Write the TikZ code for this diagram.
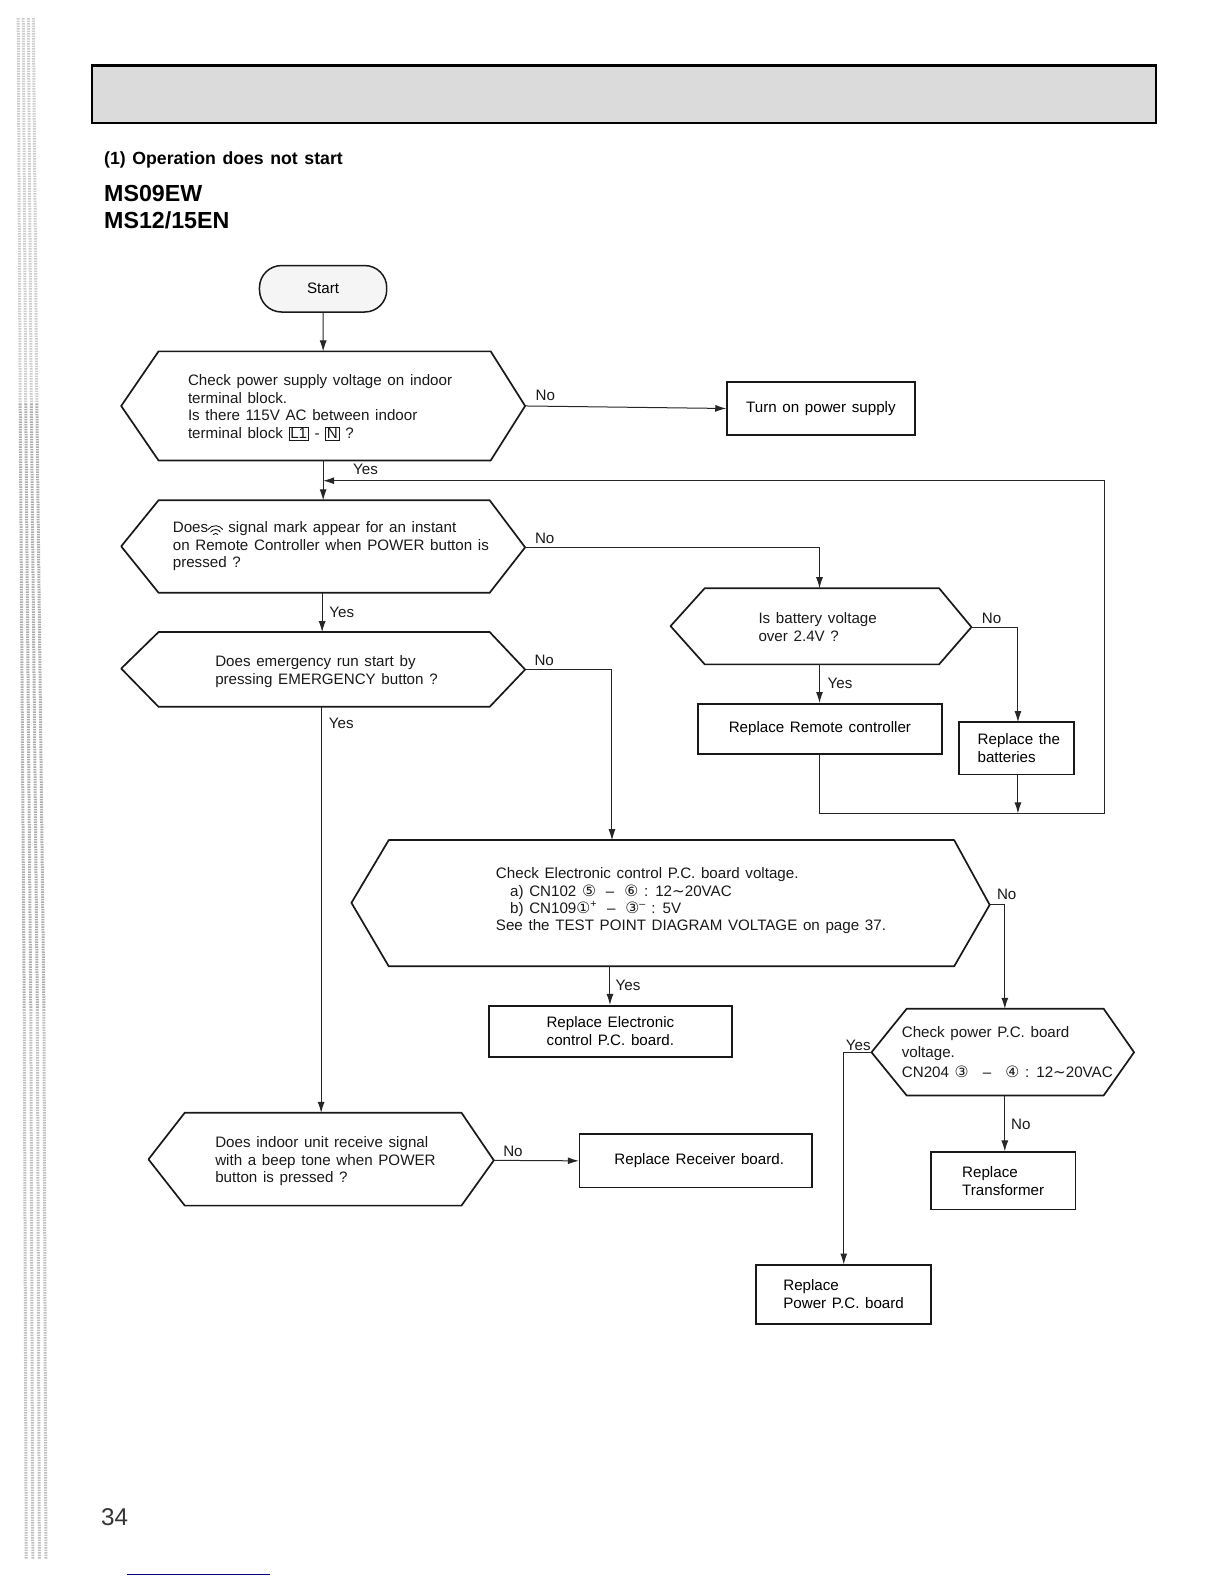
\documentclass[tikz,border=0pt]{standalone}
\usepackage{fontspec}
\setmainfont[WordSpace=1.35]{Liberation Sans}
\newfontfamily\symf{DejaVu Sans}
\usetikzlibrary{arrows.meta}
\newcommand{\cd}[1]{{\symf\fontsize{15.5}{15}\selectfont #1}}
\newcommand{\tbox}[1]{{\setlength{\fboxsep}{1pt}\setlength{\fboxrule}{0.7pt}\fbox{#1}}}
\newcommand{\hexa}[9]{%
  \coordinate (#1-l) at (#2,#7);
  \coordinate (#1-r) at (#5,#8);
  \draw[shape line] (#1-l) -- (#3,#6) -- (#4,#6) -- (#1-r) -- (#4,#9) -- (#3,#9) -- cycle;
}
\tikzset{
  shape line/.style={line width=1.7pt,draw=black!90,line join=round},
  flow/.style={line width=1pt,draw=black!85},
  flowa/.style={flow,-{Latex[length=11pt,width=7pt]}},
  boxn/.style={draw=black!90,line width=1.7pt,inner sep=0pt,font=\fsz,align=center},
  txt/.style={font=\fsz,anchor=west,align=left,inner sep=0pt,text=black!90},
  lab/.style={font=\fsz,inner sep=0pt,text=black!90},
  edgeline/.style={line width=3pt,dash pattern=on 1.5pt off 1pt},
}
\newcommand{\fsz}{\fontsize{15}{17.6}\selectfont}
\begin{document}
\begin{tikzpicture}[x=1pt,y=-1pt]
\useasboundingbox (0,0) rectangle (1224,1584);
\begin{scope}[scale=1.0097,transform shape]
% page edge stripes
\foreach \i in {0,1,2,3}{
  \draw[edgeline,gray!40] ({18+\i*5},18) -- ({20+\i*5.5},400);
  \draw[edgeline,gray!65] ({20+\i*5.5},400) -- ({24+\i*6.5},1000);
  \draw[edgeline,gray!50] ({24+\i*6.5},1000) -- ({26+\i*6.5},1544);
}
\draw[blue!50!black,line width=1pt] (126,1559) -- (267,1559);
% banner
\node[draw=black,line width=2.6pt,fill=gray!28,minimum width=1054pt,minimum height=57pt,inner sep=0pt] (banner) at (618,93.5) {};
% titles
\node[anchor=west,inner sep=0pt,font=\fontsize{17.5}{20}\selectfont\bfseries] (title) at (103,158) {(1) Operation does not start};
\node[anchor=west,inner sep=0pt,font=\fontsize{23}{26}\selectfont] (m1) at (103,192) {\textbf{MS09EW}};
\node[anchor=west,inner sep=0pt,font=\fontsize{23}{26}\selectfont] (m2) at (103,218) {\textbf{MS12/15EN}};
\node[anchor=west,inner sep=0pt,font=\fontsize{24}{26}\selectfont,text=black!80] (pg) at (100,1503) {34};
% start
\node[draw=black!90,line width=1.5pt,rounded corners=22pt,fill=gray!8,minimum width=126pt,minimum height=46pt,inner sep=0pt,font=\fsz] (start) at (320,286) {Start};
% hexagons
\hexa{h1}{120}{157}{486}{520}{348}{402}{402}{456}
\hexa{h2}{120}{157}{485}{520}{495.5}{541}{542}{587}
\hexa{h3}{120}{157}{485}{520}{626}{662}{663}{700}
\hexa{hb}{664}{698}{930}{962}{582.5}{620}{621}{658}
\hexa{h5}{348}{385}{945}{980}{832}{894}{896}{957}
\hexa{h6}{147}{183}{457}{489}{1102}{1148}{1149}{1194}
\hexa{h7}{863}{898}{1093}{1123}{999}{1042}{1042}{1085}
% hexagon texts
\node[txt] (t1) at (186,403.5) {Check power supply voltage on indoor\\terminal block.\\Is there 115V AC between indoor\\terminal block \tbox{L1} - \tbox{N} ?};
\node[txt] (t2) at (171,541) {Does\hspace{20pt}signal mark appear for an instant\\on Remote Controller when POWER button is\\pressed ?};
\draw[line width=0.8pt] (206,524.5) arc[start angle=145,end angle=35,radius=9pt]
  (208.5,527) arc[start angle=145,end angle=35,radius=6pt]
  (211,529.5) arc[start angle=145,end angle=35,radius=3pt];
\node[txt] (t3) at (213,665) {Does emergency run start by\\pressing EMERGENCY button ?};
\node[txt] (tb) at (751,621) {Is battery voltage\\over 2.4V ?};
\node[txt,font=\fontsize{15}{17}\selectfont] (t5) at (491,892) {Check Electronic control P.C. board voltage.\\
\hspace{14pt}a) CN102 \cd{⑤} \;--\; \cd{⑥} : 12{\symf ∼}20VAC\\
\hspace{14pt}b) CN109\cd{①}\textsuperscript{+} \;--\; \cd{③}\textsuperscript{--} : 5V\\
See the TEST POINT DIAGRAM VOLTAGE on page 37.};
\node[txt,font=\fontsize{15}{20}\selectfont] (t6) at (893,1042) {Check power P.C. board\\voltage.\\CN204 \cd{③} \;\;--\;\; \cd{④} : 12{\symf ∼}20VAC\hspace{2pt}};
\node[txt] (t7) at (213,1150) {Does indoor unit receive signal\\with a beep tone when POWER\\button is pressed ?};
% boxes
\node[boxn,minimum width=186pt,minimum height=52pt] (turn) at (813,404.5) {\raisebox{-1pt}{Turn on power supply}};
\node[boxn,minimum width=242pt,minimum height=50pt] (rrc) at (812,722) {\raisebox{-1.5pt}{Replace Remote controller}};
\node[boxn,minimum width=114pt,minimum height=52pt,align=left] (bat) at (1007,741) {\hspace{4pt}Replace the\\\hspace{4pt}batteries};
\node[boxn,minimum width=241pt,minimum height=51pt] (rec) at (604.5,1021.5) {Replace Electronic\\control P.C. board.};
\node[boxn,minimum width=230pt,minimum height=53pt] (rrb) at (689,1149.5) {\hspace{7pt}Replace Receiver board.};
\node[boxn,minimum width=143pt,minimum height=57pt,align=left] (rtr) at (993.5,1169.5) {Replace\\Transformer};
\node[boxn,minimum width=173pt,minimum height=58pt,align=left] (rpw) at (835.5,1282) {Replace\\Power P.C. board};
% helper coordinates
\coordinate (h1t) at (320,348);
\coordinate (h1b) at (320,456);
\coordinate (h2t) at (320,495.5);
\coordinate (j1) at (320,476);
\coordinate (h2b) at (319,587);
\coordinate (h3t) at (319,626);
\coordinate (h3b) at (318,700);
\coordinate (h6t) at (318,1102);
\coordinate (hbt) at (811.5,582.5);
\coordinate (hbb) at (811.5,658);
\coordinate (h5t) at (606,832);
\coordinate (h5b) at (604,957);
\coordinate (h7t) at (995,999);
\coordinate (h7b) at (995,1085);
\coordinate (fb1) at (1094,476);
\coordinate (fb2) at (1094,805.5);
\coordinate (fb3) at (1008,805.5);
\coordinate (batin) at (1008,715);
% connectors
\draw[flowa] (start) -- (h1t);
\draw[flowa] (h1-r) -- (turn.west);
\draw[flowa] (h1b) -- (h2t);
\draw[flowa] (h2-r) -| (hbt);
\draw[flowa] (h2b) -- (h3t);
\draw[flowa] (h3b) -- (h6t);
\draw[flowa] (h3-r) -| (h5t);
\draw[flowa] (hbb) -- (hbb |- rrc.north);
\draw[flowa] (hb-r) -| (batin);
\draw[flow] (hbb |- rrc.south) |- (fb3) -- (fb2) -- (fb1);
\draw[flowa] (fb1) -- (j1);
\draw[flowa] (bat.south -| fb3) -- (fb3);
\draw[flowa] (h5b) -- (h5b |- rec.north);
\draw[flowa] (h5-r) -| (h7t);
\draw[flowa] (h7b) -- (h7b |- rtr.north);
\draw[flowa] (h7-l) -| (rpw.north);
\draw[flowa] (h6-r) -- (rrb.west);
% labels
\node[lab] (l1) at (540,392) {No};
\node[lab] (l2) at (362,464.5) {Yes};
\node[lab] (l3) at (539.5,533) {No};
\node[lab] (l4) at (338.5,606) {Yes};
\node[lab] (l5) at (539,654.5) {No};
\node[lab] (l6) at (338,716) {Yes};
\node[lab] (l7) at (982,612) {No};
\node[lab] (l8) at (832,677) {Yes};
\node[lab] (l9) at (997,886) {No};
\node[lab] (l10) at (622,975.5) {Yes};
\node[lab] (l11) at (850,1035) {Yes};
\node[lab] (l12) at (1011,1114) {No};
\node[lab] (l13) at (508,1140) {No};
\end{scope}
\end{tikzpicture}
\end{document}
